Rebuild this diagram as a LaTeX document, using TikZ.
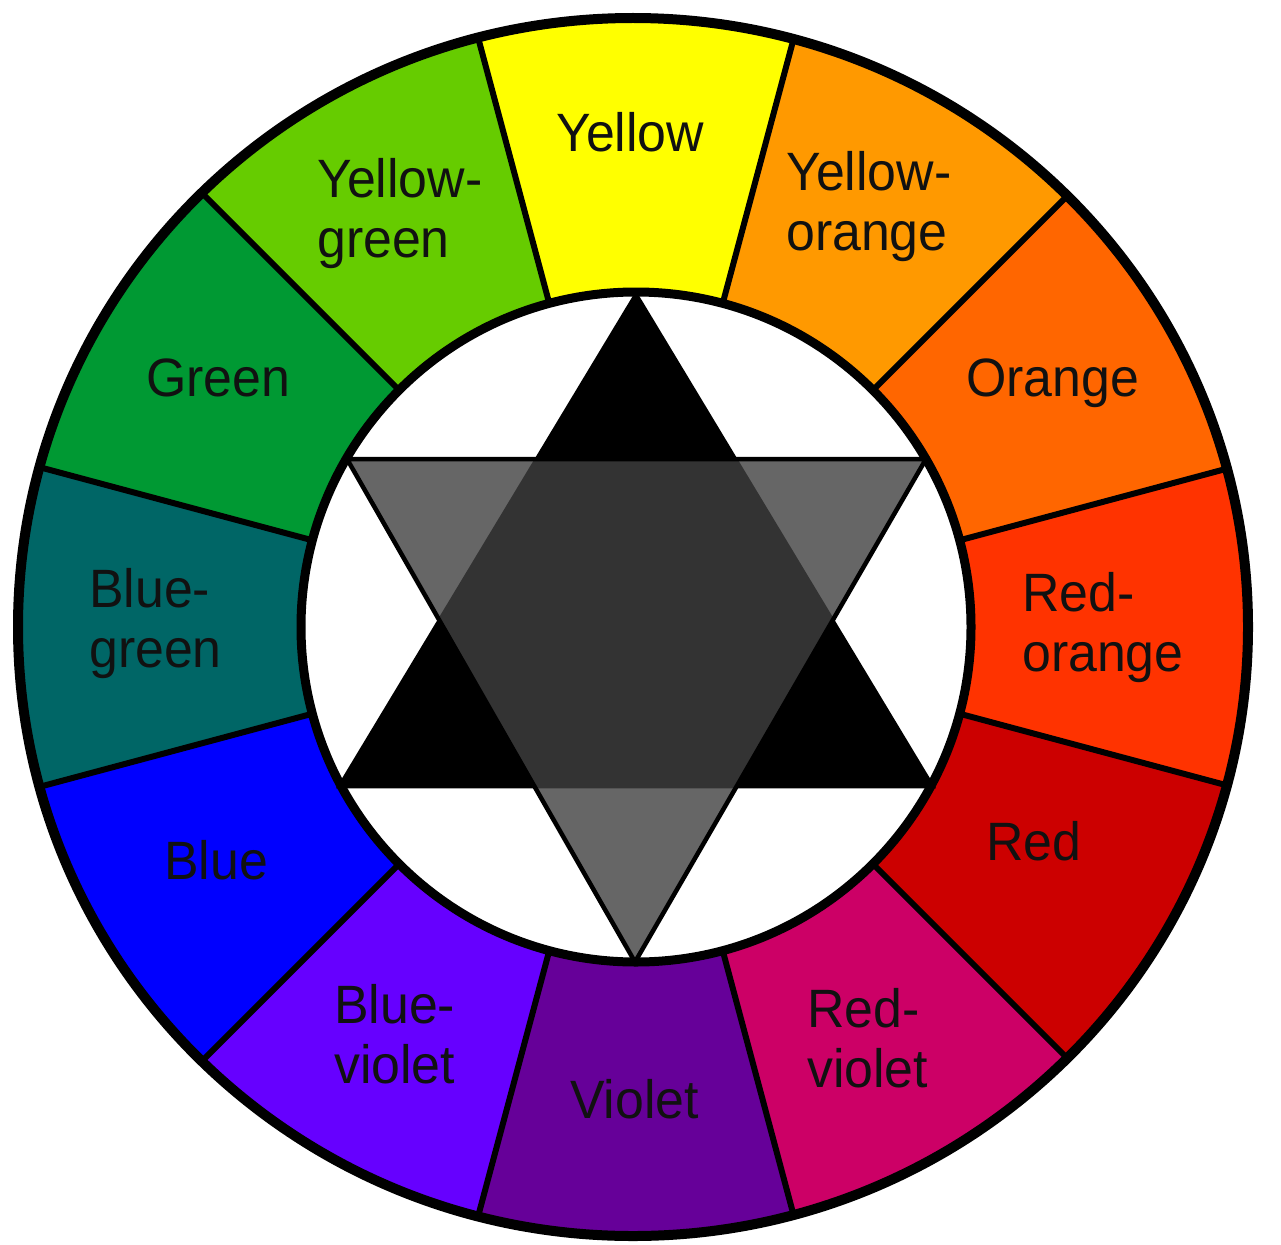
\documentclass[tikz,border=0pt]{standalone}
\usepackage{fontspec}
\setmainfont{Liberation Sans}[FakeStretch=0.96]
\definecolor{cy}{HTML}{FFFF00}
\definecolor{cyo}{HTML}{FF9900}
\definecolor{co}{HTML}{FF6600}
\definecolor{cro}{HTML}{FF3300}
\definecolor{cr}{HTML}{CC0000}
\definecolor{crv}{HTML}{CC0066}
\definecolor{cv}{HTML}{660099}
\definecolor{cbv}{HTML}{6600FF}
\definecolor{cb}{HTML}{0000FF}
\definecolor{cbg}{HTML}{006666}
\definecolor{cg}{HTML}{009933}
\definecolor{cyg}{HTML}{66CC00}
\definecolor{starg}{RGB}{64,64,64}
\definecolor{labelc}{HTML}{111111}
\begin{document}
\begin{tikzpicture}[x=1pt,y=-1pt,
  divider/.style={line width=6pt},
  ring/.style={line width=10pt},
  starline/.style={line width=4.5pt},
  lbl/.style={anchor=base west, inner sep=0pt, text=labelc, font=\fontsize{54}{60}\selectfont},
]
\useasboundingbox (0,0) rectangle (1281,1244);
\coordinate (oc) at (633,627);
\coordinate (ic) at (636,627);
% coloured sectors
\begin{scope}
  \clip (oc) ellipse [x radius=615, y radius=609];
  \foreach \a/\c in {270/cy,300/cyo,330/co,0/cro,30/cr,60/crv,90/cv,120/cbv,150/cb,180/cbg,210/cg,240/cyg}{
    \fill[\c] (ic) -- +({\a-15}:900) -- +(\a:950) -- +({\a+15}:900) -- cycle;
  }
  \foreach \k in {0,...,11}{
    \draw[divider] (ic) ++({15+30*\k}:330) -- ++({15+30*\k}:330);
  }
\end{scope}
% rings
\filldraw[fill=white, draw=black, line width=9pt] (ic) circle [radius=335];
\draw[ring] (oc) ellipse [x radius=615, y radius=609];
% star
\coordinate (ua) at (636,295);
\coordinate (ul) at (340,786);
\coordinate (ur) at (932,786);
\coordinate (dl) at (347,459);
\coordinate (dr) at (926,459);
\coordinate (da) at (635,962);
\filldraw[fill=black, draw=black, starline] (ua) -- (ul) -- (ur) -- cycle;
\fill[starg, fill opacity=0.8] (dl) -- (dr) -- (da) -- cycle;
\draw[starline] (dl) -- (dr) -- (da) -- cycle;
% labels
\node[lbl] (yellow) at (556,151) {Yellow};
\node[lbl] (yellowgreen) at (317,197.5) {\begin{tabular}[t]{@{}l@{}}Yellow-\\green\end{tabular}};
\node[lbl] (yelloworange) at (786,190) {\begin{tabular}[t]{@{}l@{}}Yellow-\\orange\end{tabular}};
\node[lbl] (green) at (146,396) {Green};
\node[lbl] (orange) at (966,396) {Orange};
\node[lbl] (bluegreen) at (89,607) {\begin{tabular}[t]{@{}l@{}}Blue-\\green\end{tabular}};
\node[lbl] (redorange) at (1022,611) {\begin{tabular}[t]{@{}l@{}}Red-\\orange\end{tabular}};
\node[lbl] (blue) at (164,879) {Blue};
\node[lbl] (red) at (986,860) {Red};
\node[lbl] (blueviolet) at (334,1023.5) {\begin{tabular}[t]{@{}l@{}}Blue-\\violet\end{tabular}};
\node[lbl] (redviolet) at (807,1027.5) {\begin{tabular}[t]{@{}l@{}}Red-\\violet\end{tabular}};
\node[lbl] (violet) at (570,1118) {Violet};
\end{tikzpicture}
\end{document}
